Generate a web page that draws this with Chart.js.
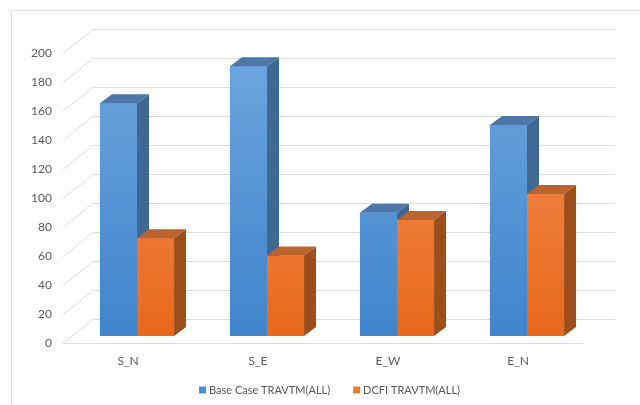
<!DOCTYPE html>
<html><head><meta charset="utf-8">
<script src="https://cdn.jsdelivr.net/npm/chart.js@4"></script>
<style>html,body{margin:0;padding:0;background:#fff}#wrap{width:640px;height:405px;position:relative}</style>
</head><body><div id="wrap"><canvas id="c" width="640" height="405"></canvas></div>
<script>
const categories = ['S_N', 'S_E', 'E_W', 'E_N'];
const baseCase = [160.5, 186, 85, 145.5];
const dcfi = [67.5, 55.5, 80, 98];
const seriesNames = ['Base Case TRAVTM(ALL)', 'DCFI TRAVTM(ALL)'];
const yTicks = [0, 20, 40, 60, 80, 100, 120, 140, 160, 180, 200];

const FONT = 'Lato';
const TXT = '#595959';
const GRID = '#dcdcdc';
const BACK_DX = 30, BACK_DY = -24;   // back wall depth offset
const BAR_DX = 9, BAR_DY = -7;       // bars placed slightly behind the front plane
const SIDE_DX = 12, SIDE_DY = -9;    // bar depth
const styles = [
  {top: '#6fa6de', bottom: '#3f84cb', side: '#3e6995', cap: '#4d77a6', legend: '#4a8fd6'},
  {top: '#f4955a', bottom: '#e8681c', side: '#9c4e1b', cap: '#bb6430', legend: '#f07c30'}
];

const wallPlugin = {
  id: 'wall',
  beforeDraw(chart) {
    const ctx = chart.ctx;
    ctx.save();
    ctx.fillStyle = '#fff';
    ctx.fillRect(0, 0, chart.width, chart.height);
    ctx.strokeStyle = '#d8dae6';
    ctx.lineWidth = 1;
    ctx.strokeRect(11.5, 10.5, 700, 500);
    const y = chart.scales.y, a = chart.chartArea;
    ctx.strokeStyle = GRID;
    yTicks.forEach(v => {
      const py = Math.round(y.getPixelForValue(v)) + 0.5;
      ctx.beginPath();
      ctx.moveTo(a.left, py);
      ctx.lineTo(a.left + BACK_DX, py + BACK_DY);
      ctx.lineTo(a.right + BACK_DX + 2, py + BACK_DY);
      ctx.stroke();
    });
    const p0 = Math.round(y.getPixelForValue(0)) + 0.5;
    ctx.beginPath();
    ctx.moveTo(a.left, p0);
    ctx.lineTo(a.right, p0);
    ctx.stroke();
    ctx.restore();
  },
  beforeDatasetsDraw(chart) {
    chart.ctx.save();
    chart.ctx.translate(BAR_DX, BAR_DY);
  },
  afterDatasetsDraw(chart) {
    const ctx = chart.ctx;
    const y = chart.scales.y;
    const y0 = y.getPixelForValue(0), yMax = y.getPixelForValue(200);
    chart.data.datasets.forEach((ds, di) => {
      const st = styles[di];
      chart.getDatasetMeta(di).data.forEach(bar => {
        const p = bar.getProps(['x', 'y', 'base', 'width'], true);
        const x0 = p.x - p.width / 2, x1 = p.x + p.width / 2;
        const top = p.y, bot = p.base;
        const g = ctx.createLinearGradient(0, yMax, 0, y0);
        g.addColorStop(0, st.top);
        g.addColorStop(1, st.bottom);
        ctx.fillStyle = g;
        ctx.fillRect(x0, top, x1 - x0, bot - top);
        ctx.fillStyle = st.side;
        ctx.beginPath();
        ctx.moveTo(x1, top);
        ctx.lineTo(x1 + SIDE_DX, top + SIDE_DY);
        ctx.lineTo(x1 + SIDE_DX, bot + SIDE_DY);
        ctx.lineTo(x1, bot);
        ctx.closePath();
        ctx.fill();
        ctx.fillStyle = st.cap;
        ctx.beginPath();
        ctx.moveTo(x0, top);
        ctx.lineTo(x1, top);
        ctx.lineTo(x1 + SIDE_DX, top + SIDE_DY);
        ctx.lineTo(x0 + SIDE_DX, top + SIDE_DY);
        ctx.closePath();
        ctx.fill();
      });
    });
    ctx.restore();
  },
  afterDraw(chart) {
    const ctx = chart.ctx;
    ctx.save();
    ctx.font = '11px ' + FONT;
    ctx.textBaseline = 'middle';
    const gap = 23, box = 7, boxGap = 3;
    const widths = seriesNames.map(n => box + boxGap + ctx.measureText(n).width);
    const total = widths.reduce((s, w) => s + w, 0) + gap;
    let x = 329.5 - total / 2;
    const ly = 390;
    seriesNames.forEach((n, i) => {
      ctx.fillStyle = styles[i].legend;
      ctx.fillRect(x, ly - 3.5, box, box);
      ctx.fillStyle = TXT;
      ctx.fillText(n, x + box + boxGap, ly);
      x += widths[i] + gap;
    });
    ctx.restore();
  }
};

new Chart(document.getElementById('c'), {
  type: 'bar',
  data: {
    labels: categories,
    datasets: [
      {label: seriesNames[0], data: baseCase, backgroundColor: styles[0].bottom},
      {label: seriesNames[1], data: dcfi, backgroundColor: styles[1].bottom}
    ]
  },
  options: {
    responsive: false,
    animation: false,
    devicePixelRatio: 1,
    layout: {padding: {top: 53, right: 57, bottom: 0, left: 0}},
    datasets: {bar: {categoryPercentage: 0.57, barPercentage: 1.0, borderWidth: 0}},
    plugins: {legend: {display: false}, tooltip: {enabled: false}},
    scales: {
      x: {
        grid: {display: false, drawTicks: false},
        border: {display: false},
        ticks: {color: TXT, font: {family: FONT, size: 12}, padding: 11},
        afterFit(s) { s.height = 62; }
      },
      y: {
        min: 0, max: 200,
        grid: {display: false, drawTicks: false},
        border: {display: false},
        ticks: {color: TXT, font: {family: FONT, size: 12}, padding: 11, stepSize: 20},
        afterFit(s) { s.width = 63; }
      }
    }
  },
  plugins: [wallPlugin]
});
</script></body></html>
